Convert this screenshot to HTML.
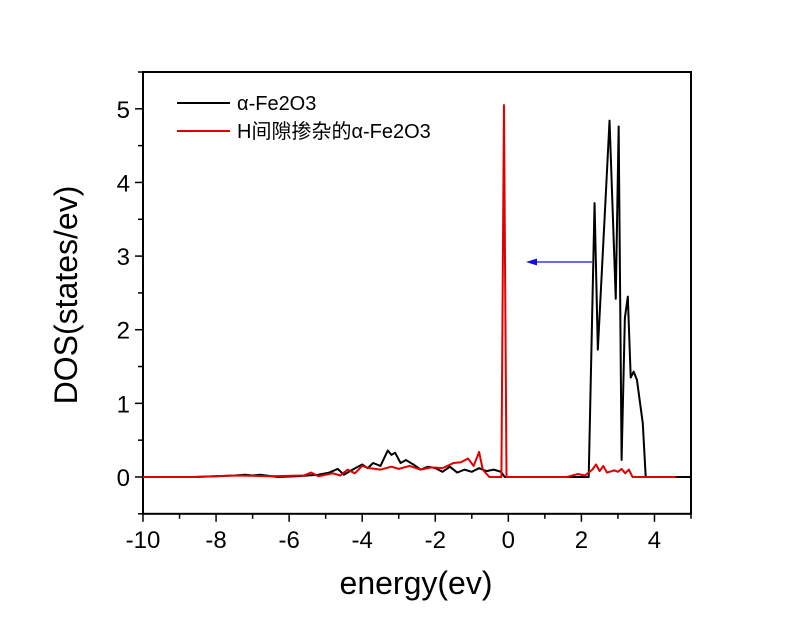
<!DOCTYPE html>
<html><head><meta charset="utf-8"><style>
html,body{margin:0;padding:0;background:#fff;width:800px;height:617px;overflow:hidden}
svg text{font-family:"Liberation Sans","Noto Sans CJK SC",sans-serif}
</style></head><body>
<svg id="chart" width="800" height="617" xmlns="http://www.w3.org/2000/svg">
<g id="axes"></g>
<g id="series"></g>
<line x1="592" y1="262" x2="532" y2="262" stroke="#1010e0" stroke-width="1.2"/>
<polygon points="526,262 537,258.5 537,265.5" fill="#1010e0"/>
<g>
<line x1="177" y1="103" x2="230" y2="103" stroke="#000" stroke-width="2"/>
<text x="237" y="110" font-size="20">α-Fe2O3</text>
<line x1="177" y1="131" x2="230" y2="131" stroke="#e00000" stroke-width="2"/>
<text x="237" y="138" font-size="20">H间隙掺杂的α-Fe2O3</text>
</g>
<text x="416" y="594" font-size="32" text-anchor="middle">energy(ev)</text>
<text transform="translate(77,295) rotate(-90)" font-size="32" text-anchor="middle">DOS(states/ev)</text>
</svg>
<script>
const xTicks=[-10,-8,-6,-4,-2,0,2,4];
const yTicks=[0,1,2,3,4,5];
const pureE=[-8.6,-8,-7.5,-7.2,-7,-6.8,-6.3,-5.8,-5.2,-4.9,-4.67,-4.5,-4.3,-4.0,-3.85,-3.7,-3.5,-3.3,-3.2,-3.1,-2.95,-2.8,-2.6,-2.4,-2.2,-2.0,-1.8,-1.6,-1.4,-1.2,-1.0,-0.8,-0.6,-0.4,-0.2,-0.1,2.2,2.36,2.45,2.66,2.77,2.94,3.02,3.1,3.19,3.27,3.35,3.43,3.52,3.68,3.76,5.0];
const pureD=[0,0.01,0.02,0.03,0.02,0.03,0,0.01,0.03,0.06,0.11,0.03,0.09,0.17,0.12,0.19,0.15,0.36,0.3,0.33,0.19,0.23,0.17,0.1,0.14,0.12,0.07,0.14,0.06,0.1,0.07,0.12,0.08,0.1,0.07,0,0,3.72,1.73,3.76,4.84,2.42,4.76,0.23,2.16,2.45,1.35,1.43,1.32,0.73,0,0];
const dopedE=[-10,-8.6,-7.5,-6.5,-5.6,-5.4,-5.2,-4.8,-4.6,-4.4,-4.2,-4.0,-3.8,-3.5,-3.2,-3.0,-2.7,-2.4,-2.1,-1.8,-1.5,-1.3,-1.1,-0.95,-0.8,-0.7,-0.52,-0.19,-0.12,-0.05,0,1.6,1.9,2.1,2.3,2.4,2.5,2.6,2.7,2.9,3.0,3.1,3.2,3.3,3.4,4.58];
const dopedD=[0,0,0.02,0.01,0.02,0.06,0.01,0.05,0.02,0.1,0.05,0.15,0.12,0.1,0.14,0.11,0.15,0.1,0.13,0.12,0.19,0.2,0.25,0.15,0.34,0.1,0,0,5.05,0,0,0,0.04,0.02,0.1,0.17,0.08,0.15,0.06,0.09,0.07,0.11,0.05,0.1,0,0];
const X0=143,X1=691,Y0=513.8,Y1=72,xmin=-10,xmax=5,ymin=-0.5,ymax=5.5;
const sx=v=>X0+(v-xmin)/(xmax-xmin)*(X1-X0);
const sy=v=>Y0-(v-ymin)/(ymax-ymin)*(Y0-Y1);
const NS='http://www.w3.org/2000/svg';
const ax=document.getElementById('axes'),se=document.getElementById('series');
function mk(tag,attrs,parent){const e=document.createElementNS(NS,tag);for(const k in attrs)e.setAttribute(k,attrs[k]);parent.appendChild(e);return e;}
const fr=mk('rect',{x:X0,y:Y1,width:X1-X0,height:Y0-Y1,fill:'none',stroke:'#000','stroke-width':2},ax);


for(let v=-10;v<=5;v+=1){const major=xTicks.includes(v);
 const t=mk('line',{x1:sx(v),x2:sx(v),y1:Y0,y2:Y0+(major?8:5),stroke:'#000','stroke-width':1.5},ax);
 
 }
xTicks.forEach(v=>{const t=mk('text',{x:sx(v),y:Y0+34,'font-size':24,'text-anchor':'middle'},ax);t.textContent=v;
 
 });
for(let v=-0.5;v<=5.5;v+=0.5){const major=yTicks.includes(v);
 const t=mk('line',{x1:X0,x2:X0-(major?8:5),y1:sy(v),y2:sy(v),stroke:'#000','stroke-width':1.5},ax);
 
 }
yTicks.forEach(v=>{const t=mk('text',{x:X0-13,y:sy(v)+9,'font-size':24,'text-anchor':'end'},ax);t.textContent=v;
 
 });
function line(E,D,color,name){const p=mk('polyline',{points:E.map((e,i)=>sx(e)+','+sy(D[i])).join(' '),fill:'none',stroke:color,'stroke-width':2,'stroke-linejoin':'round'},se);
 
 }
line(pureE,pureD,'#000','pure-fe2o3-line');
line(dopedE,dopedD,'#e00000','h-doped-fe2o3-line');
</script>
</body></html>
